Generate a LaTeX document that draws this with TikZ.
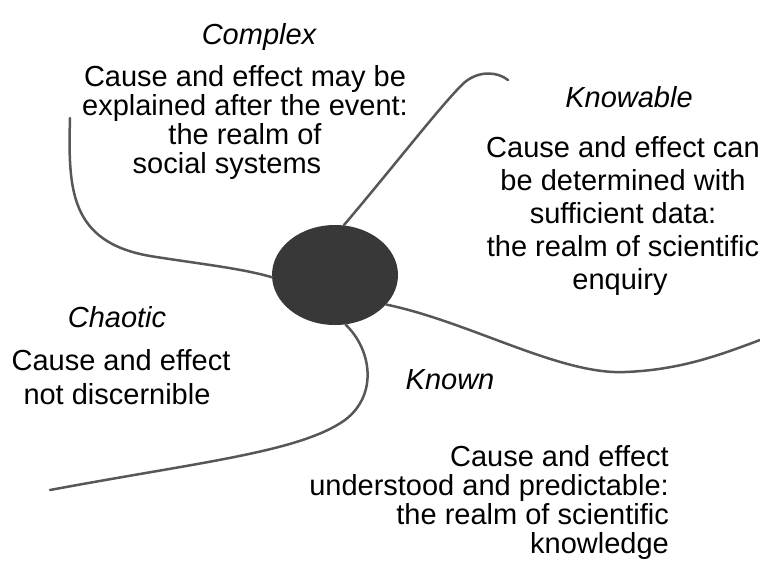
\documentclass[tikz,border=0pt]{standalone}
\usepackage{fontspec}
\setmainfont{Liberation Sans}
\usetikzlibrary{shapes.geometric}
\begin{document}
\begin{tikzpicture}[x=1pt,y=-1pt,
  txt/.style={font=\fontsize{29}{33}\selectfont, inner sep=0pt, anchor=base},
  ttl/.style={txt, font=\fontsize{29}{33}\selectfont\itshape},
  wire/.style={draw=black!66, line width=2.5pt, line cap=round},
  hub/.style={ellipse, fill=black!78, minimum width=126pt, minimum height=100pt, inner sep=0pt}]
\useasboundingbox (0,0) rectangle (760,563);

% central hub
\node[hub] (E) at (335,275) {};

% connectors
\coordinate (cxA) at (70,118);
\coordinate (cxB) at (508,80);
\coordinate (cxC) at (760,340);
\coordinate (cxD) at (50,490);
\draw[wire] (cxA) .. controls (68,190) and (70,242) .. (150,256)
                  .. controls (200,264) and (240,268) .. (E.182);
\draw[wire] (E.80) .. controls (395,165) and (445,100) .. (465,82)
                   .. controls (480,70) and (498,72) .. (cxB);
\draw[wire] (E.-30) .. controls (470,322) and (560,375) .. (625,372)
                    .. controls (680,370) and (720,355) .. (cxC);
\draw[wire] (E.-78) .. controls (372,350) and (378,395) .. (345,420)
                    .. controls (300,452) and (200,462) .. (cxD);

% Complex
\node[ttl] (t1) at (259,44) {Complex};
\node[txt] (t1a) at (245,86) {Cause and effect may be};
\node[txt] (t1b) at (245,115) {explained after the event:};
\node[txt] (t1c) at (245,144) {the realm of};
\node[txt] (t1d) at (227,173) {social systems};

% Knowable
\node[ttl] (t2) at (629,107) {Knowable};
\node[txt] (t2a) at (623,157) {Cause and effect can};
\node[txt] (t2b) at (623,190) {be determined with};
\node[txt] (t2c) at (623,223) {sufficient data:};
\node[txt] (t2d) at (623,256) {the realm of scientific};
\node[txt] (t2e) at (620,289) {enquiry};

% Chaotic
\node[ttl] (t3) at (117,327) {Chaotic};
\node[txt] (t3a) at (121,370) {Cause and effect};
\node[txt] (t3b) at (117,404) {not discernible};

% Known
\node[ttl] (t4) at (450,389) {Known};
\node[txt, anchor=base east] (t4a) at (669,466) {Cause and effect};
\node[txt, anchor=base east] (t4b) at (669,495) {understood and predictable:};
\node[txt, anchor=base east] (t4c) at (669,524) {the realm of scientific};
\node[txt, anchor=base east] (t4d) at (669,553) {knowledge};
\end{tikzpicture}
\end{document}
